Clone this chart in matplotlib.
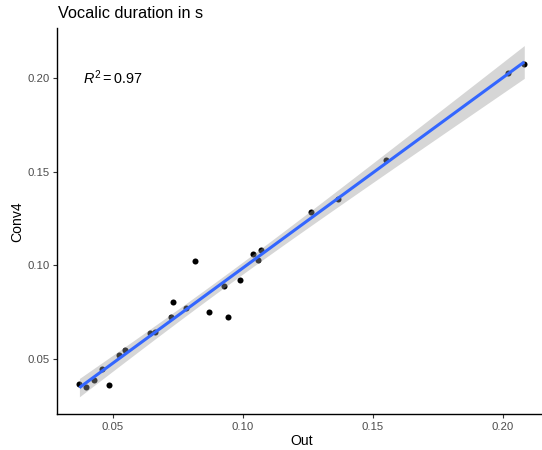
import numpy as np
import matplotlib
matplotlib.use("Agg")
import matplotlib.pyplot as plt

plt.rcParams["font.family"] = ["Liberation Sans", "DejaVu Sans"]
plt.rcParams["mathtext.fontset"] = "custom"
plt.rcParams["mathtext.rm"] = "Liberation Sans"
plt.rcParams["mathtext.it"] = "Liberation Sans:italic"

# Vocalic durations (s): reference measurement vs. converted measurement
out_vals = [0.0372, 0.0396, 0.0428, 0.0460, 0.0487, 0.0523, 0.0546, 0.0642,
            0.0662, 0.0724, 0.0732, 0.0783, 0.0817, 0.0871, 0.0929, 0.0944,
            0.0991, 0.1040, 0.1057, 0.1072, 0.1262, 0.1365, 0.1550, 0.2022,
            0.2083]
conv4_vals = [0.0367, 0.0354, 0.0388, 0.0451, 0.0361, 0.0522, 0.0548, 0.0639,
              0.0647, 0.0726, 0.0807, 0.0772, 0.1025, 0.0752, 0.0892, 0.0724,
              0.0921, 0.1063, 0.1030, 0.1084, 0.1284, 0.1353, 0.1562, 0.2028,
              0.2076]
r2_text = "0.97"
x_ticks = [0.05, 0.10, 0.15, 0.20]
y_ticks = [0.05, 0.10, 0.15, 0.20]

x = np.array(out_vals)
y = np.array(conv4_vals)

# least-squares fit with 95% confidence band
n = len(x)
slope, intercept = np.polyfit(x, y, 1)
xs = np.linspace(x.min(), x.max(), 80)
ys = intercept + slope * xs
resid = y - (intercept + slope * x)
s = np.sqrt(np.sum(resid ** 2) / (n - 2))
sxx = np.sum((x - x.mean()) ** 2)
se = s * np.sqrt(1.0 / n + (xs - x.mean()) ** 2 / sxx)
t_crit = 2.0687  # t(0.975, df = 23)
lo, hi = ys - t_crit * se, ys + t_crit * se

W, H = 542, 450
fig = plt.figure(figsize=(W / 100, H / 100), dpi=100)
ax = fig.add_axes([57.3 / W, 1 - 414.3 / H, (546.5 - 57.3) / W, (414.3 - 28.3) / H])

ax.scatter(x, y, s=19, color="black", linewidths=0, zorder=2)
ax.fill_between(xs, lo, hi, color="#999999", alpha=0.4, linewidth=0, zorder=3)
ax.plot(xs, ys, color="#3366FF", lw=2.2, zorder=4, solid_capstyle="butt")

ax.set_xlim(0.0287, 0.21685)
ax.set_ylim(0.0207, 0.2264)
ax.set_xticks(x_ticks)
ax.set_yticks(y_ticks)
ax.set_xticklabels([f"{v:.2f}" for v in x_ticks])
ax.set_yticklabels([f"{v:.2f}" for v in y_ticks])
ax.tick_params(axis="both", length=2.6, width=0.8, color="#333333",
               labelsize=8.2, labelcolor="#4D4D4D", pad=2.6)

for side in ("top", "right"):
    ax.spines[side].set_visible(False)
for side in ("left", "bottom"):
    ax.spines[side].set_linewidth(1.0)
    ax.spines[side].set_color("black")

ax.text(0.0387, 0.1966, r"$R^2 = $" + r2_text, fontsize=10.4, ha="left",
        va="baseline", color="black")

fig.text(58.3 / W, 1 - 18.5 / H, "Vocalic duration in s", fontsize=11.7,
         ha="left", va="baseline", color="black")
fig.text(301.9 / W, 1 - 445 / H, "Out", fontsize=10.1, ha="center",
         va="baseline", color="black")
fig.text(17.5 / W, 1 - 221.3 / H, "Conv4", fontsize=10.1, ha="center",
         va="center", rotation=90, color="black")

fig.savefig("out.png", dpi=100, facecolor="white")
